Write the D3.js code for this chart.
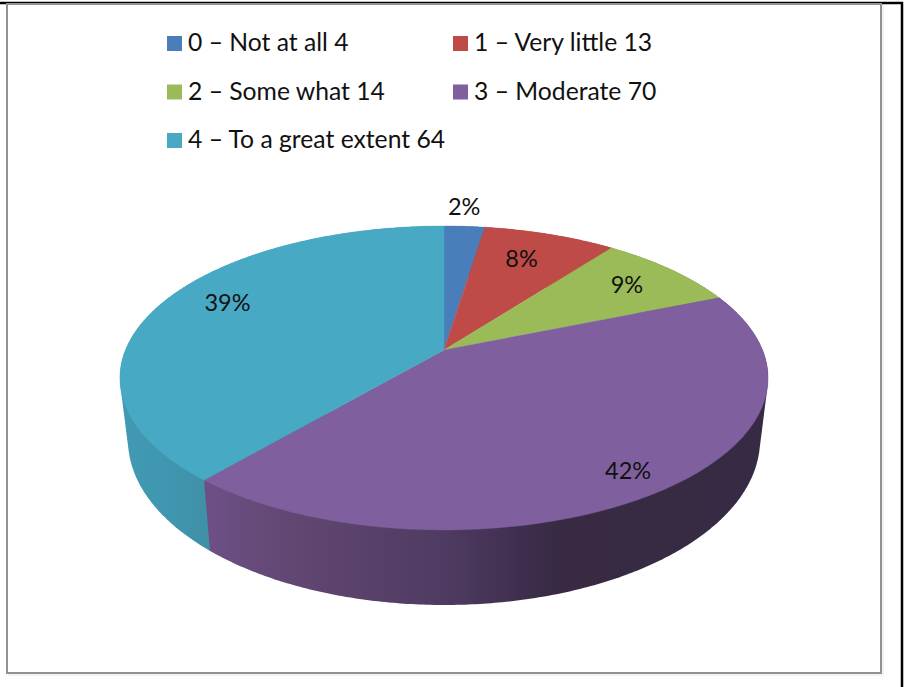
<!DOCTYPE html>
<html>
<head>
<meta charset="utf-8">
<script src="https://cdn.jsdelivr.net/npm/d3@7"></script>
<style>
html,body{margin:0;padding:0;background:#fff}
svg{display:block}
text{font-family:Lato,"Open Sans",sans-serif;fill:#111}
</style>
</head>
<body>
<svg id="chart" width="904" height="687"></svg>
<script>
const categories = ["0 – Not at all 4","1 – Very little 13","2 – Some what 14","3 – Moderate 70","4 – To a great extent 64"];
const values = [4,13,14,70,64];
const percentLabels = ["2%","8%","9%","42%","39%"];
const colors = ["#4a7ebb","#be4b48","#9bbb59","#7f5f9e","#47a9c4"];

// layout
const W=904,H=687;
const labelRadius=[1.16,0.75,0.78,0.89,0.77];
const labelNudge=[[-3,-3],[-5,-1],[2,-1],[-8,-1],[3,-10]];
const persp=0.1842;
const topFace={x:444,y:350,a:318.5,b:146.8};
const bottomFace={x:444,y:409.6,a:310.6,b:159.4};

const svg=d3.select("#chart");
const defs=svg.append("defs");

// frame
const frame=svg.append("g").attr("fill","none");
frame.append("path").attr("d",`M0,3H${W-2}V${H}`).attr("stroke","#000").attr("stroke-width",2.5);
frame.append("rect").attr("x",7).attr("y",4).attr("width",874).attr("height",669)
  .attr("stroke","#929292").attr("stroke-width",2);
frame.append("path").attr("d","M883,5V675H8").attr("stroke","#e6e6e6").attr("stroke-width",1);

// perspective projection of the unit disc
function project(f,ang,r=1){
  const u=r*Math.sin(ang),v=-r*Math.cos(ang),w=1-persp*v;
  return [f.x+f.a*u/w,f.y+f.b*v/w];
}
const pieGen=d3.pie().sort(null).value(d=>d);
const arcs=pieGen(values);
function rim(f,a,step=0.01){
  const n=Math.max(2,Math.ceil((a.endAngle-a.startAngle)/step));
  return d3.range(n+1).map(i=>project(f,a.startAngle+(a.endAngle-a.startAngle)*i/n));
}
const line=d3.line().curve(d3.curveLinear);

// side gradients
const gradientStops={
  3:[[210,"#6d4f85"],[300,"#604670"],[444,"#4f3b62"],[520,"#3f2f4f"],[560,"#372a42"],[768,"#372a44"]],
  4:[[120,"#4199b3"],[160,"#4097b0"],[210,"#3f90a7"]]
};
Object.keys(gradientStops).forEach(k=>{
  const s=gradientStops[k];
  const x0=s[0][0],x1=s[s.length-1][0];
  const g=defs.append("linearGradient").attr("id","side"+k).attr("gradientUnits","userSpaceOnUse")
    .attr("x1",x0).attr("x2",x1).attr("y1",0).attr("y2",0);
  s.forEach(p=>g.append("stop").attr("offset",(p[0]-x0)/(x1-x0)).attr("stop-color",p[1]));
});

// sides: back to front, teal before purple
const sides=svg.append("g");
[0,1,2,4,3].forEach(i=>{
  const pts=rim(topFace,arcs[i]).concat(rim(bottomFace,arcs[i]));
  sides.append("path")
    .attr("d",line(d3.polygonHull(pts))+"Z")
    .attr("fill",gradientStops[i]?`url(#side${i})`:d3.color(colors[i]).darker(1.2));
});

// top faces
const tops=svg.append("g");
arcs.forEach((a,i)=>{
  const pts=[project(topFace,0,0)].concat(rim(topFace,a));
  tops.append("path").attr("d",line(pts)+"Z").attr("fill",colors[i])
    .attr("stroke",colors[i]).attr("stroke-width",0.4);
});

// percent labels
const labels=svg.append("g").attr("font-size",23.5).attr("text-anchor","middle");
arcs.forEach((a,i)=>{
  const p=project(topFace,(a.startAngle+a.endAngle)/2,labelRadius[i]);
  labels.append("text").attr("x",p[0]+labelNudge[i][0]).attr("y",p[1]+labelNudge[i][1])
    .attr("dy","0.35em").text(percentLabels[i]);
});

// legend
const col=d3.scalePoint().domain([0,1]).range([167,453]);
const row=d3.scalePoint().domain([0,1,2]).range([36,133]);
const legend=svg.append("g");
categories.forEach((c,i)=>{
  const x=col(i%2),y=row(Math.floor(i/2));
  legend.append("rect").attr("x",x).attr("y",y).attr("width",15).attr("height",15).attr("fill",colors[i]);
  legend.append("text").attr("x",x+21).attr("y",y+15).attr("font-size",24.7).text(c);
});
</script>
</body>
</html>
